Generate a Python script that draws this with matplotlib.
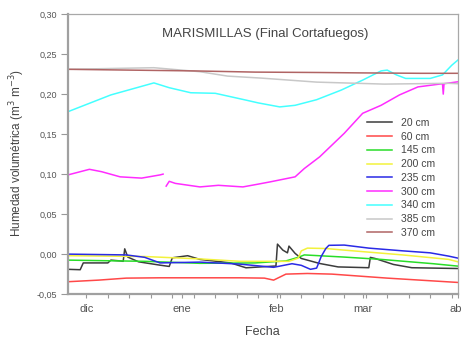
import numpy as np
import pandas as pd
import matplotlib
matplotlib.use("Agg")
import matplotlib.pyplot as plt
import matplotlib.dates as mdates
from matplotlib.ticker import FuncFormatter

plt.rcParams['font.family'] = ['Liberation Sans', 'DejaVu Sans']

# --- data (humedad volumetrica, m3 m-3) ---
d20 = ["2008-11-25", "2008-11-29", "2008-11-30", "2008-12-08", "2008-12-09", "2008-12-12",
       "2008-12-13", "2008-12-13 12:00", "2008-12-14 12:00", "2008-12-18", "2008-12-25",
       "2008-12-28", "2008-12-29", "2009-01-03", "2009-01-07", "2009-01-17", "2009-01-22",
       "2009-01-31", "2009-01-31 18:00", "2009-02-01 06:00", "2009-02-03", "2009-02-04 12:00",
       "2009-02-05", "2009-02-07", "2009-02-09", "2009-02-15", "2009-02-21", "2009-03-03",
       "2009-03-03 12:00", "2009-03-05", "2009-03-11", "2009-03-17", "2009-04-01"]
v20 = [-0.019, -0.0195, -0.011, -0.011, -0.0075, -0.0085,
       -0.009, 0.0066, -0.0037, -0.0096, -0.0138,
       -0.0154, -0.0046, -0.002, -0.0066, -0.011, -0.0171,
       -0.015, -0.015, 0.0125, 0.005, 0.0016,
       0.010, 0.0009, -0.0054, -0.0117, -0.016, -0.017,
       -0.0041, -0.0054, -0.0129, -0.017, -0.018]

d60 = ["2008-11-25", "2008-12-05", "2008-12-14", "2008-12-25", "2009-01-20", "2009-01-28",
       "2009-01-31", "2009-02-04", "2009-02-11", "2009-02-19", "2009-03-09", "2009-04-01"]
v60 = [-0.0345, -0.0325, -0.030, -0.0296, -0.0296, -0.030,
       -0.0325, -0.025, -0.0242, -0.025, -0.030, -0.0354]

d145 = ["2008-11-25", "2008-12-20", "2009-01-07", "2009-01-25", "2009-02-04", "2009-02-08",
        "2009-02-10", "2009-02-23", "2009-03-07", "2009-03-24", "2009-04-01"]
v145 = [-0.0075, -0.009, -0.0115, -0.011, -0.0085, -0.004,
        -0.001, -0.0037, -0.0066, -0.012, -0.015]

d200 = ["2008-11-25", "2008-12-20", "2009-01-07", "2009-01-20", "2009-02-05", "2009-02-08",
        "2009-02-09", "2009-02-11", "2009-02-17", "2009-02-23", "2009-03-14", "2009-03-29",
        "2009-04-01"]
v200 = [-0.002, -0.003, -0.006, -0.009, -0.009, -0.005,
        0.004, 0.0075, 0.007, 0.005, -0.001, -0.0066,
        -0.0096]

d235 = ["2008-11-25", "2008-12-14", "2008-12-20", "2008-12-25", "2009-01-07", "2009-01-20",
        "2009-01-31", "2009-02-02", "2009-02-06", "2009-02-09", "2009-02-12", "2009-02-14",
        "2009-02-15 12:00", "2009-02-17", "2009-02-18", "2009-02-23", "2009-03-03",
        "2009-03-14", "2009-03-23", "2009-03-29", "2009-04-01"]
v235 = [0.000, -0.001, -0.004, -0.011, -0.010, -0.0125,
        -0.0165, -0.015, -0.012, -0.014, -0.019, -0.0175,
        -0.003, 0.007, 0.011, 0.0113, 0.0075,
        0.0041, 0.0016, -0.0025, -0.005]

d300 = ["2008-11-25", "2008-12-02", "2008-12-06", "2008-12-12", "2008-12-19", "2008-12-25",
        "2008-12-26", "2008-12-26 12:00", "2008-12-27", "2008-12-28", "2008-12-30",
        "2009-01-07", "2009-01-13", "2009-01-21", "2009-01-26", "2009-01-30", "2009-02-07",
        "2009-02-10", "2009-02-15", "2009-02-23", "2009-03-01", "2009-03-07", "2009-03-13",
        "2009-03-19", "2009-03-25", "2009-03-27", "2009-03-27 06:00", "2009-03-27 12:00",
        "2009-04-01"]
v300 = [0.099, 0.106, 0.103, 0.0966, 0.095, 0.099,
        0.100, np.nan, 0.085, 0.091, 0.0884,
        0.084, 0.086, 0.084, 0.0875, 0.0904, 0.0966,
        0.107, 0.1216, 0.151, 0.176, 0.186, 0.199,
        0.209, 0.212, 0.213, 0.200, 0.213,
        0.2154]

d340 = ["2008-11-25", "2008-12-09", "2008-12-23", "2008-12-28", "2009-01-04", "2009-01-12",
        "2009-01-22", "2009-01-26", "2009-02-02", "2009-02-07", "2009-02-14", "2009-02-22",
        "2009-03-01", "2009-03-07", "2009-03-09", "2009-03-12", "2009-03-15", "2009-03-23",
        "2009-03-27", "2009-03-30", "2009-04-01"]
v340 = [0.178, 0.199, 0.214, 0.208, 0.2017, 0.201,
        0.1925, 0.189, 0.184, 0.186, 0.193, 0.205,
        0.2175, 0.229, 0.230, 0.224, 0.2196, 0.2196,
        0.224, 0.236, 0.2425]

d385 = ["2008-11-25", "2008-12-23", "2009-01-07", "2009-01-16", "2009-01-27", "2009-02-14",
        "2009-03-08", "2009-03-29", "2009-04-01"]
v385 = [0.231, 0.233, 0.228, 0.2225, 0.220, 0.215,
        0.2125, 0.2135, 0.213]

d370 = ["2008-11-25", "2008-12-15", "2009-01-05", "2009-01-25", "2009-02-15", "2009-03-01",
        "2009-03-20", "2009-04-01"]
v370 = [0.231, 0.230, 0.229, 0.2275, 0.227, 0.2265, 0.226, 0.226]

labels = ["20 cm", "60 cm", "145 cm", "200 cm", "235 cm", "300 cm", "340 cm", "385 cm", "370 cm"]
dates = [d20, d60, d145, d200, d235, d300, d340, d385, d370]
values = [v20, v60, v145, v200, v235, v300, v340, v385, v370]
colors = ["#3c3c3c", "#ff4848", "#28dd28", "#f2f23c", "#2a2ae6", "#ff2cff", "#44ffff", "#c8c8c8", "#b06464"]

fig = plt.figure(figsize=(4.62, 3.44), dpi=100)
ax = fig.add_axes([0.147, 0.145, 0.844, 0.814])

for d, v, c, lab in zip(dates, values, colors, labels):
    ax.plot(pd.to_datetime(d, format='mixed'), v, color=c, lw=1.1, label=lab)

ax.set_xlim(pd.Timestamp("2008-11-25"), pd.Timestamp("2009-04-01"))
ax.set_ylim(-0.05, 0.30)
ax.set_yticks(np.arange(-0.05, 0.301, 0.05))
ax.yaxis.set_major_formatter(FuncFormatter(lambda y, p: f"{y:.2f}".replace(".", ",").replace("-0,00", "0,00")))

ax.xaxis.set_major_locator(mdates.MonthLocator())
ax.xaxis.set_minor_locator(mdates.WeekdayLocator(byweekday=mdates.MO))
meses = {12: "dic", 1: "ene", 2: "feb", 3: "mar", 4: "abr"}
ax.xaxis.set_major_formatter(FuncFormatter(lambda x, p: meses[mdates.num2date(x).month]))

ax.tick_params(axis='y', direction='out', length=5, width=0.8, color='#999999',
               labelsize=6.5, labelcolor='#555555', pad=3)
ax.tick_params(axis='x', which='both', direction='out', length=3, width=0.8, color='#999999')
ax.tick_params(axis='x', labelsize=8, labelcolor='#555555', pad=4)

for s in ['left', 'bottom']:
    ax.spines[s].set_color('#a0a0a0')
    ax.spines[s].set_linewidth(1.6)
for s in ['top', 'right']:
    ax.spines[s].set_color('#a8a8a8')
    ax.spines[s].set_linewidth(0.9)

ax.text(0.505, 0.93, "MARISMILLAS (Final Cortafuegos)", transform=ax.transAxes,
        ha='center', va='center', fontsize=9.5, color='#444444')
fig.text(0.568, 0.035, "Fecha", ha='center', va='center', fontsize=9, color='#444444')
fig.text(0.037, 0.555, "Humedad volumétrica (m$^3$ m$^{-3}$)", rotation=90,
         ha='center', va='center', fontsize=8.5, color='#444444')

ax.legend(loc='upper left', bbox_to_anchor=(0.795, 0.657), bbox_transform=fig.transFigure,
          frameon=False, fontsize=7.5, handlelength=2.4, handletextpad=0.8,
          labelspacing=0.36, borderpad=0, borderaxespad=0, labelcolor='#444444')

fig.savefig("out.png", dpi=100)
